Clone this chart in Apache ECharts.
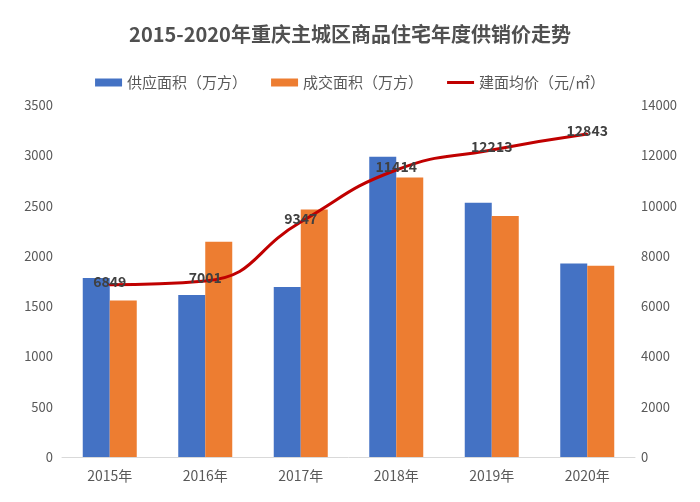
<!DOCTYPE html>
<html>
<head>
<meta charset="utf-8">
<script src="https://cdn.jsdelivr.net/npm/echarts@6/dist/echarts.min.js"></script>
<style>html,body{margin:0;padding:0;background:#fff}#c{width:700px;height:502px}</style>
</head>
<body>
<div id="c"></div>
<script>
const categories = ['2015年','2016年','2017年','2018年','2019年','2020年'];
const supplyArea = [1780, 1610, 1690, 2985, 2528, 1925];
const dealArea = [1555, 2140, 2462, 2780, 2396, 1902];
const avgPrice = [6849, 7001, 9347, 11414, 12213, 12843];
const leftTicks = [0, 3500, 500];
const rightTicks = [0, 14000, 2000];

const font = '"Noto Sans CJK SC", "Open Sans", sans-serif';
const chart = echarts.init(document.getElementById('c'), null, {renderer: 'canvas'});
chart.setOption({
  backgroundColor: '#fff',
  animation: false,
  textStyle: {fontFamily: font},
  title: {
    text: '2015-2020年重庆主城区商品住宅年度供销价走势',
    left: 'center', top: 19,
    textStyle: {fontSize: 20, fontWeight: 'bold', color: '#505050', fontFamily: font}
  },
  legend: {
    top: 70, left: 'center',
    itemWidth: 27, itemHeight: 8, itemGap: 24,
    textStyle: {fontSize: 15, color: '#595959', fontFamily: font},
    data: [
      {name: '供应面积（万方）', icon: 'rect'},
      {name: '成交面积（万方）', icon: 'rect'},
      {name: '建面均价（元/㎡）', icon: 'path://M0,0L27,0L27,3L0,3Z'}
    ]
  },
  grid: {left: 62, right: 65, top: 105, bottom: 45},
  xAxis: {
    type: 'category', data: categories,
    axisLine: {show: true, lineStyle: {color: '#d9d9d9', width: 1}},
    axisTick: {show: false},
    axisLabel: {fontSize: 14, color: '#595959', margin: 12, fontFamily: font}
  },
  yAxis: [
    {type: 'value', min: leftTicks[0], max: leftTicks[1], interval: leftTicks[2],
     axisLine: {show: false}, axisTick: {show: false}, splitLine: {show: false},
     axisLabel: {fontSize: 13, color: '#595959', margin: 9, fontFamily: font, formatter: v => String(v)}},
    {type: 'value', min: rightTicks[0], max: rightTicks[1], interval: rightTicks[2],
     axisLine: {show: false}, axisTick: {show: false}, splitLine: {show: false},
     axisLabel: {fontSize: 13, color: '#595959', margin: 6, fontFamily: font, formatter: v => String(v)}}
  ],
  series: [
    {name: '供应面积（万方）', type: 'bar', data: supplyArea, barWidth: 27, barGap: '0%',
     itemStyle: {color: '#4472C4'}},
    {name: '成交面积（万方）', type: 'bar', data: dealArea, barWidth: 27, barGap: '0%',
     itemStyle: {color: '#ED7D31'}},
    {name: '建面均价（元/㎡）', type: 'line', yAxisIndex: 1, data: avgPrice, smooth: 0.5,
     symbol: 'circle', symbolSize: 2, showSymbol: true, z: 5,
     lineStyle: {color: '#C00000', width: 3}, itemStyle: {color: '#C00000'},
     label: {show: true, position: 'inside', offset: [0, -3], fontSize: 14, fontWeight: 'bold',
             color: '#404040', fontFamily: font}}
  ]
});
</script>
</body>
</html>
